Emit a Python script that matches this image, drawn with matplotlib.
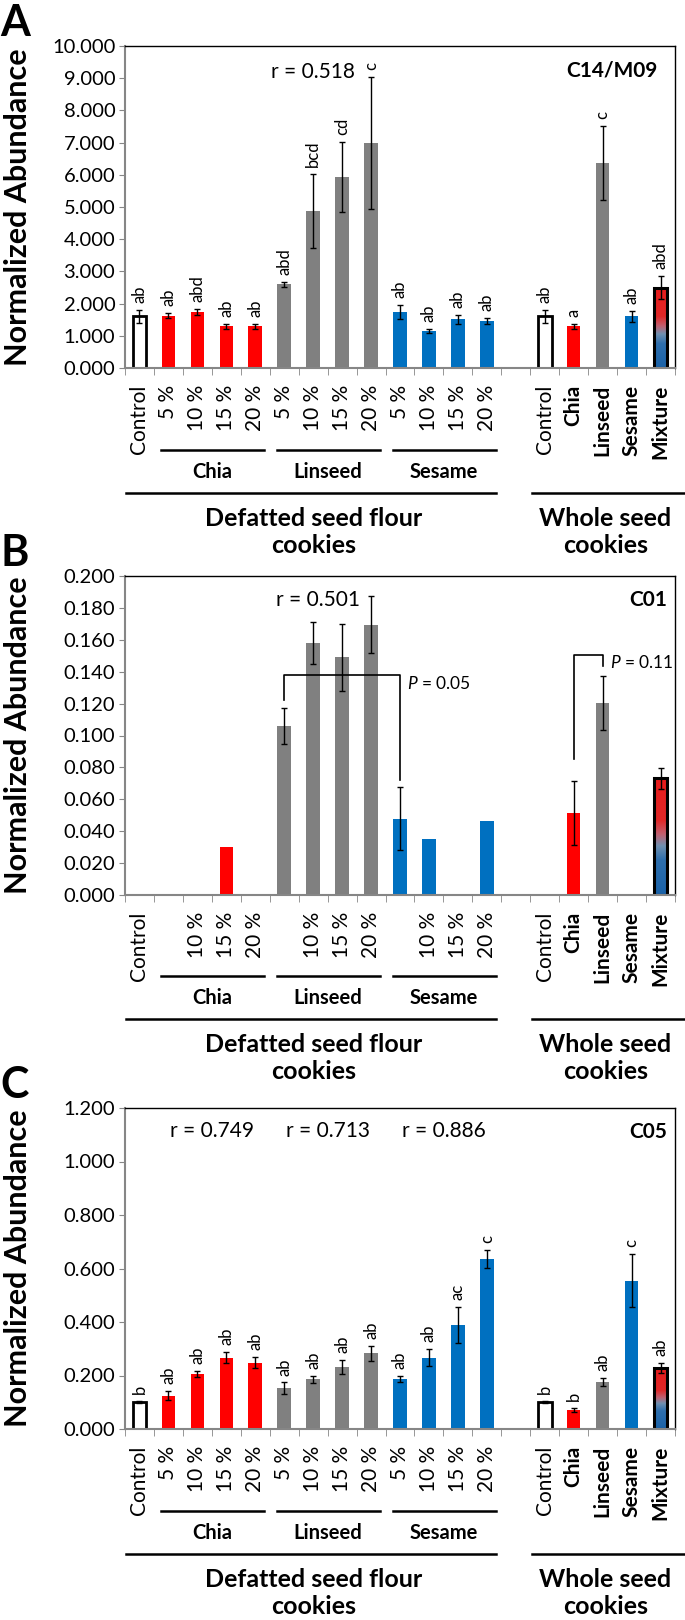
import numpy as np
import matplotlib
matplotlib.use('Agg')
import matplotlib.pyplot as plt
from matplotlib.colors import LinearSegmentedColormap
from matplotlib.ticker import FormatStrFormatter

plt.rcParams['font.family'] = ['Lato', 'DejaVu Sans']
plt.rcParams['mathtext.fontset'] = 'custom'
plt.rcParams['mathtext.rm'] = 'Lato'
plt.rcParams['mathtext.it'] = 'Lato:italic'

# --- data ---
nan = np.nan
x_pos = [0, 1, 2, 3, 4, 5, 6, 7, 8, 9, 10, 11, 12, 14, 15, 16, 17, 18]
kinds = ['ctrl', 'red', 'red', 'red', 'red', 'gray', 'gray', 'gray', 'gray',
         'blue', 'blue', 'blue', 'blue', 'ctrl', 'red', 'gray', 'blue', 'mix']

labels_ac = ['Control', '5 %', '10 %', '15 %', '20 %', '5 %', '10 %', '15 %', '20 %',
             '5 %', '10 %', '15 %', '20 %', 'Control', 'Chia', 'Linseed', 'Sesame', 'Mixture']
labels_b = ['Control', '', '10 %', '15 %', '20 %', '', '10 %', '15 %', '20 %',
            '', '10 %', '15 %', '20 %', 'Control', 'Chia', 'Linseed', 'Sesame', 'Mixture']
bold_labels = [14, 15, 16, 17]

a_vals = [1.60, 1.63, 1.74, 1.29, 1.29, 2.60, 4.89, 5.93, 6.99, 1.74, 1.15, 1.51, 1.46,
          1.60, 1.29, 6.38, 1.60, 2.49]
a_errs = [0.20, 0.08, 0.10, 0.09, 0.08, 0.08, 1.15, 1.10, 2.05, 0.22, 0.07, 0.15, 0.10,
          0.20, 0.08, 1.15, 0.17, 0.36]
a_letters = ['ab', 'ab', 'abd', 'ab', 'ab', 'abd', 'bcd', 'cd', 'c', 'ab', 'ab', 'ab', 'ab',
             'ab', 'a', 'c', 'ab', 'abd']

b_vals = [nan, nan, nan, 0.030, nan, 0.106, 0.158, 0.149, 0.1695, 0.0478, 0.0353, nan, 0.0461,
          nan, 0.0513, 0.1203, nan, 0.0733]
b_errs = [0, 0, 0, 0, 0, 0.0115, 0.013, 0.021, 0.018, 0.0198, 0, 0, 0,
          0, 0.020, 0.0167, 0, 0.0066]

c_vals = [0.102, 0.125, 0.205, 0.267, 0.248, 0.152, 0.186, 0.232, 0.283, 0.186, 0.267, 0.388, 0.636,
          0.102, 0.071, 0.177, 0.555, 0.227]
c_errs = [0.004, 0.016, 0.012, 0.021, 0.020, 0.022, 0.014, 0.027, 0.028, 0.012, 0.033, 0.067, 0.034,
          0.004, 0.007, 0.015, 0.098, 0.019]
c_letters = ['b', 'ab', 'ab', 'ab', 'ab', 'ab', 'ab', 'ab', 'ab', 'ab', 'ab', 'ac', 'c',
             'b', 'b', 'ab', 'c', 'ab']

groups = [('Chia', 1, 4), ('Linseed', 5, 8), ('Sesame', 9, 12)]

colors = {'red': '#FF0000', 'gray': '#808080', 'blue': '#0070C0'}
mix_cmap = LinearSegmentedColormap.from_list(
    'mix', [(0, '#1A62A8'), (0.30, '#2F6FAD'), (0.42, '#7090B0'),
            (0.52, '#C06070'), (0.64, '#E02828'), (1, '#E81C1C')])

W = 0.47


def draw_panel(ax, vals, errs, letters, xlabels, ymax, ystep, tag, tag_x, rtexts):
    for x, v, e, k in zip(x_pos, vals, errs, kinds):
        if np.isnan(v):
            continue
        if k == 'ctrl':
            ax.bar(x, v, W, facecolor='white', edgecolor='black', linewidth=2, zorder=2)
        elif k == 'mix':
            p = ax.bar(x, v, W, facecolor='none', edgecolor='black', linewidth=2.2, zorder=2)[0]
            grad = np.linspace(0, 1, 256).reshape(-1, 1)
            im = ax.imshow(grad, extent=(x - W / 2, x + W / 2, 0, v), origin='lower',
                           cmap=mix_cmap, aspect='auto', zorder=1.5)
            im.set_clip_path(p)
        else:
            ax.bar(x, v, W, color=colors[k], zorder=2)
        if e > 0:
            ax.errorbar(x, v, yerr=e, fmt='none', ecolor='black', elinewidth=1,
                        capsize=2.5, capthick=1, zorder=3)
    if letters:
        for x, v, e, l in zip(x_pos, vals, errs, letters):
            ax.annotate(l, (x, v + e), xytext=(0, 5), textcoords='offset points',
                        rotation=90, ha='center', va='bottom', fontsize=12)

    ax.set_xlim(-0.5, 18.5)
    ax.set_ylim(0, ymax)
    ax.set_yticks(np.arange(0, ymax + ystep / 2, ystep))
    ax.yaxis.set_major_formatter(FormatStrFormatter('%.3f'))
    ax.set_xticks(x_pos)
    ax.set_xticklabels(xlabels, rotation=90)
    for i, t in enumerate(ax.get_xticklabels()):
        if i in bold_labels:
            t.set_fontweight('bold')
    ax.set_xticks(np.arange(-0.5, 19, 1), minor=True)
    ax.tick_params(axis='x', which='major', length=0, pad=12, labelsize=15)
    ax.tick_params(axis='x', which='minor', length=5, color='#868686', direction='out')
    ax.tick_params(axis='y', length=4, color='#868686', direction='out', labelsize=14.5, pad=3)
    for s in ['left', 'bottom']:
        ax.spines[s].set_color('#868686')
        ax.spines[s].set_linewidth(1.5)
    for s in ['top', 'right']:
        ax.spines[s].set_color('black')
        ax.spines[s].set_linewidth(1.0)

    ax.text(tag_x, 0.925, tag, transform=ax.transAxes, ha='right', va='center',
            fontsize=15, fontweight='bold')
    for rx, ry, rt in rtexts:
        ax.text(rx, ry, rt, ha='center', va='center', fontsize=15)

    # group labels below the axis
    tr = ax.get_xaxis_transform()
    for name, s, e in groups:
        ax.plot([s - 0.25, e + 0.3], [-0.255, -0.255], color='black', lw=1.8,
                transform=tr, clip_on=False)
        ax.text((s + e) / 2, -0.323, name, transform=tr, ha='center', va='center',
                fontsize=14.5, fontweight='bold')
    ax.plot([-0.45, 12.3], [-0.388, -0.388], color='black', lw=1.8, transform=tr, clip_on=False)
    ax.plot([13.55, 18.8], [-0.388, -0.388], color='black', lw=1.8, transform=tr, clip_on=False)
    ax.text(6.0, -0.51, 'Defatted seed flour\ncookies', transform=tr, ha='center', va='center',
            fontsize=18, fontweight='bold', linespacing=1.2)
    ax.text(16.1, -0.51, 'Whole seed\ncookies', transform=tr, ha='center', va='center',
            fontsize=18, fontweight='bold', linespacing=1.2)


fig = plt.figure(figsize=(6.85, 16.2), dpi=100)
H = 1620.0
left, width = 125 / 685, 550 / 685
panels = [(46, 368, 'A'), (576, 895, 'B'), (1108, 1429, 'C')]
axs = []
for top, bot, letter in panels:
    ax = fig.add_axes([left, 1 - bot / H, width, (bot - top) / H])
    axs.append(ax)
    fig.text(0.0, 1 - (top - 10) / H, letter, fontsize=31, fontweight='bold',
             ha='left', va='baseline')
    fig.text(18 / 685, 1 - (top + bot) / 2 / H, 'Normalized Abundance', rotation=90,
             fontsize=22, fontweight='bold', ha='center', va='center')

draw_panel(axs[0], a_vals, a_errs, a_letters, labels_ac, 10, 1, 'C14/M09', 0.968,
           [(6.0, 9.2, 'r = 0.518')])
draw_panel(axs[1], b_vals, b_errs, None, labels_b, 0.2, 0.02, 'C01', 0.985,
           [(6.16, 0.1848, 'r = 0.501')])
draw_panel(axs[2], c_vals, c_errs, c_letters, labels_ac, 1.2, 0.2, 'C05', 0.985,
           [(2.5, 1.113, 'r = 0.749'), (6.5, 1.113, 'r = 0.713'), (10.5, 1.113, 'r = 0.886')])

# significance brackets in panel B: (left bar idx, right bar idx, height, left foot, right foot, text)
brackets = [(5, 9, 0.1377, 0.1225, 0.0723, '$P$ = 0.05'),
            (14, 15, 0.1506, 0.0852, 0.1433, '$P$ = 0.11')]
axb = axs[1]
for i, j, yb, fl, fr, t in brackets:
    xi, xj = x_pos[i], x_pos[j]
    axb.plot([xi, xi, xj, xj], [fl, yb, yb, fr], color='black', lw=1.2, zorder=4)
    axb.text(xj + 0.25, yb - 0.005, t, ha='left', va='center', fontsize=12.5)

fig.savefig('out.png', dpi=100)
